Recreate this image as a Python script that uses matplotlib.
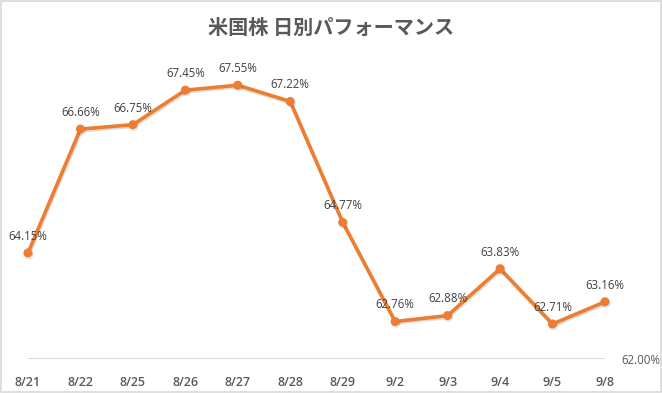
import matplotlib
matplotlib.use("Agg")
import matplotlib.pyplot as plt
import matplotlib.patheffects as pe
from matplotlib.patches import Rectangle

dates = ["8/21", "8/22", "8/25", "8/26", "8/27", "8/28", "8/29",
         "9/2", "9/3", "9/4", "9/5", "9/8"]
values = [64.15, 66.66, 66.75, 67.45, 67.55, 67.22, 64.77,
          62.76, 62.88, 63.83, 62.71, 63.16]
y_min_label = 62.00
title = "米国株 日別パフォーマンス"

plt.rcParams['font.family'] = ['Open Sans', 'Noto Sans CJK JP', 'DejaVu Sans']

fig = plt.figure(figsize=(6.62, 3.93), dpi=100)
fig.patch.set_facecolor("white")
fig.patches.append(Rectangle((0.0008, 0.0013), 0.9984, 0.9974, transform=fig.transFigure,
                             fill=False, edgecolor="#D9D9D9", linewidth=1.2))

W, H = 662, 393
ax = fig.add_axes([28 / W, 34 / H, 577 / W, 296 / H])
x = list(range(len(dates)))

ax.plot(x, values, color="#ED7D31", linewidth=2.6, marker="o", markersize=5.5,
        solid_joinstyle="round", clip_on=False, zorder=3,
        path_effects=[pe.SimpleLineShadow(offset=(0.6, -1.2), alpha=0.13, shadow_color="black"),
                      pe.Normal()])

for xi, v in zip(x, values):
    ax.annotate(f"{v:.2f}%", (xi, v), xytext=(0, 12), textcoords="offset points",
                ha="center", va="center", fontsize=8.3, color="#404040")

ax.set_xlim(0, len(dates) - 1)
ax.set_ylim(62, 68)
for s in ax.spines.values():
    s.set_visible(False)
ax.axhline(y_min_label, color="#D0D0D0", linewidth=1.1, zorder=1)

ax.set_xticks(x)
ax.set_xticklabels(dates, fontsize=9, color="#595959", fontweight="semibold")
ax.tick_params(axis="x", length=0, pad=12)

ax.yaxis.tick_right()
ax.set_yticks([y_min_label])
ax.set_yticklabels([f"{y_min_label:.2f}%"], fontsize=8.3, color="#595959")
ax.tick_params(axis="y", length=0, pad=12)

fig.text(0.5, 1 - 27 / H, title, ha="center", va="center", fontsize=14.5,
         color="#595959", fontweight="bold", family=['Noto Sans CJK JP', 'DejaVu Sans'])

fig.savefig("out.png", dpi=100, facecolor="white")
